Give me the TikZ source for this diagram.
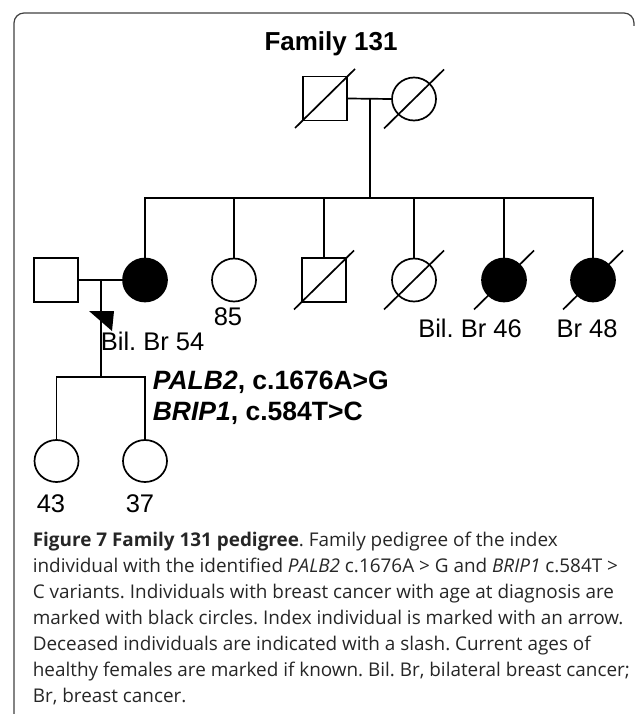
\documentclass[tikz,border=0pt]{standalone}
\usepackage{fontspec}
\setmainfont{Liberation Sans}
\newfontfamily\capfont{Open Sans}
\usetikzlibrary{shapes.geometric}
\frenchspacing
\begin{document}
\begin{tikzpicture}[x=1pt,y=-1pt,line width=1.7pt,
  sq/.style={draw,rectangle,minimum width=44pt,minimum height=44pt,inner sep=0pt},
  ci/.style={draw,ellipse,minimum width=44pt,minimum height=43pt,inner sep=0pt},
  aff/.style={fill=black},
  lab/.style={font=\fontsize{25.5}{28}\selectfont,inner sep=0pt,anchor=base},
  var/.style={font=\bfseries\fontsize{26.5}{30}\selectfont,inner sep=0pt,anchor=base west},
  captxt/.style={font=\capfont\fontsize{18.9}{22}\selectfont,text=black!85,inner sep=0pt,anchor=base west},
  frame/.style={line width=1.2pt,draw=black!75,rounded corners=10pt}]
\useasboundingbox (0,0) rectangle (636,714);
% frame
\draw[frame] (14,714) -- (14,13) -- (634,13) -- (634,26);
% title
\node[font=\bfseries\fontsize{26}{29}\selectfont,inner sep=0pt,anchor=base] (title) at (331,51) {Family 131};
% generation I
\node[sq] (gf) at (325,98.5) {};
\node[ci] (gm) at (414,99) {};
\draw ([shift={(-30,29.5)}]gf.center) -- ([shift={(30,-29.5)}]gf.center);
\draw ([shift={(-30,29.5)}]gm.center) -- ([shift={(30,-29.5)}]gm.center);
\coordinate (m1) at (370,98.5);
\coordinate (sib) at (370,198);
\draw (gf.east) -- (gm.west);
\draw (m1) -- (sib);
% generation II
\node[sq] (hus) at (56,280) {};
\node[ci,aff] (c1) at (145,280) {};
\node[ci] (c2) at (234,280) {};
\node[sq] (c3) at (324,280) {};
\node[ci] (c4) at (414,280) {};
\node[ci,aff] (c5) at (504,280) {};
\node[ci,aff] (c6) at (593,280) {};
\draw (c1.north) |- (sib) -| (c6.north);
\foreach \n in {c2,c3,c4,c5} \draw (\n.north) -- (\n.north |- sib);
\foreach \n in {c3,c4,c5,c6} \draw ([shift={(-30,29.5)}]\n.center) -- ([shift={(30,-29.5)}]\n.center);
\draw (hus.east) -- (c1.west);
\coordinate (m2) at (101,280);
\coordinate (sib2) at (101,377);
\draw (m2) -- (sib2);
% index arrow
\fill (89,311) -- (114,311) -- (112,331) -- cycle;
% labels
\node[lab] (l85) at (228,325) {85};
\node[lab,anchor=base west] (l54) at (100,350) {Bil. Br 54};
\node[lab] (l46) at (470,337) {Bil. Br 46};
\node[lab] (l48) at (587,337) {Br 48};
% generation III
\node[ci,minimum height=42pt] (g1) at (56.5,461) {};
\node[ci,minimum height=42pt] (g2) at (145,461) {};
\draw (g1.north) |- (sib2) -| (g2.north);
\node[lab] (l43) at (51,512) {43};
\node[lab] (l37) at (140,512) {37};
% variants
\node[var] (v1) at (152,389) {\textit{PALB2}, c.1676A>G};
\node[var] (v2) at (152,420) {\textit{BRIP1}, c.584T>C};
% caption
\node[captxt] (k1) at (32,546) {\textbf{Figure 7 Family 131 pedigree}. Family pedigree of the index};
\node[captxt] (k2) at (32,572) {individual with the identified \textit{PALB2} c.1676A > G and \textit{BRIP1} c.584T >};
\node[captxt] (k3) at (32,598) {C variants. Individuals with breast cancer with age at diagnosis are};
\node[captxt] (k4) at (32,624) {marked with black circles. Index individual is marked with an arrow.};
\node[captxt] (k5) at (32,650) {Deceased individuals are indicated with a slash. Current ages of};
\node[captxt] (k6) at (32,676) {healthy females are marked if known. Bil. Br, bilateral breast cancer;};
\node[captxt] (k7) at (32,702) {Br, breast cancer.};
\end{tikzpicture}
\end{document}
